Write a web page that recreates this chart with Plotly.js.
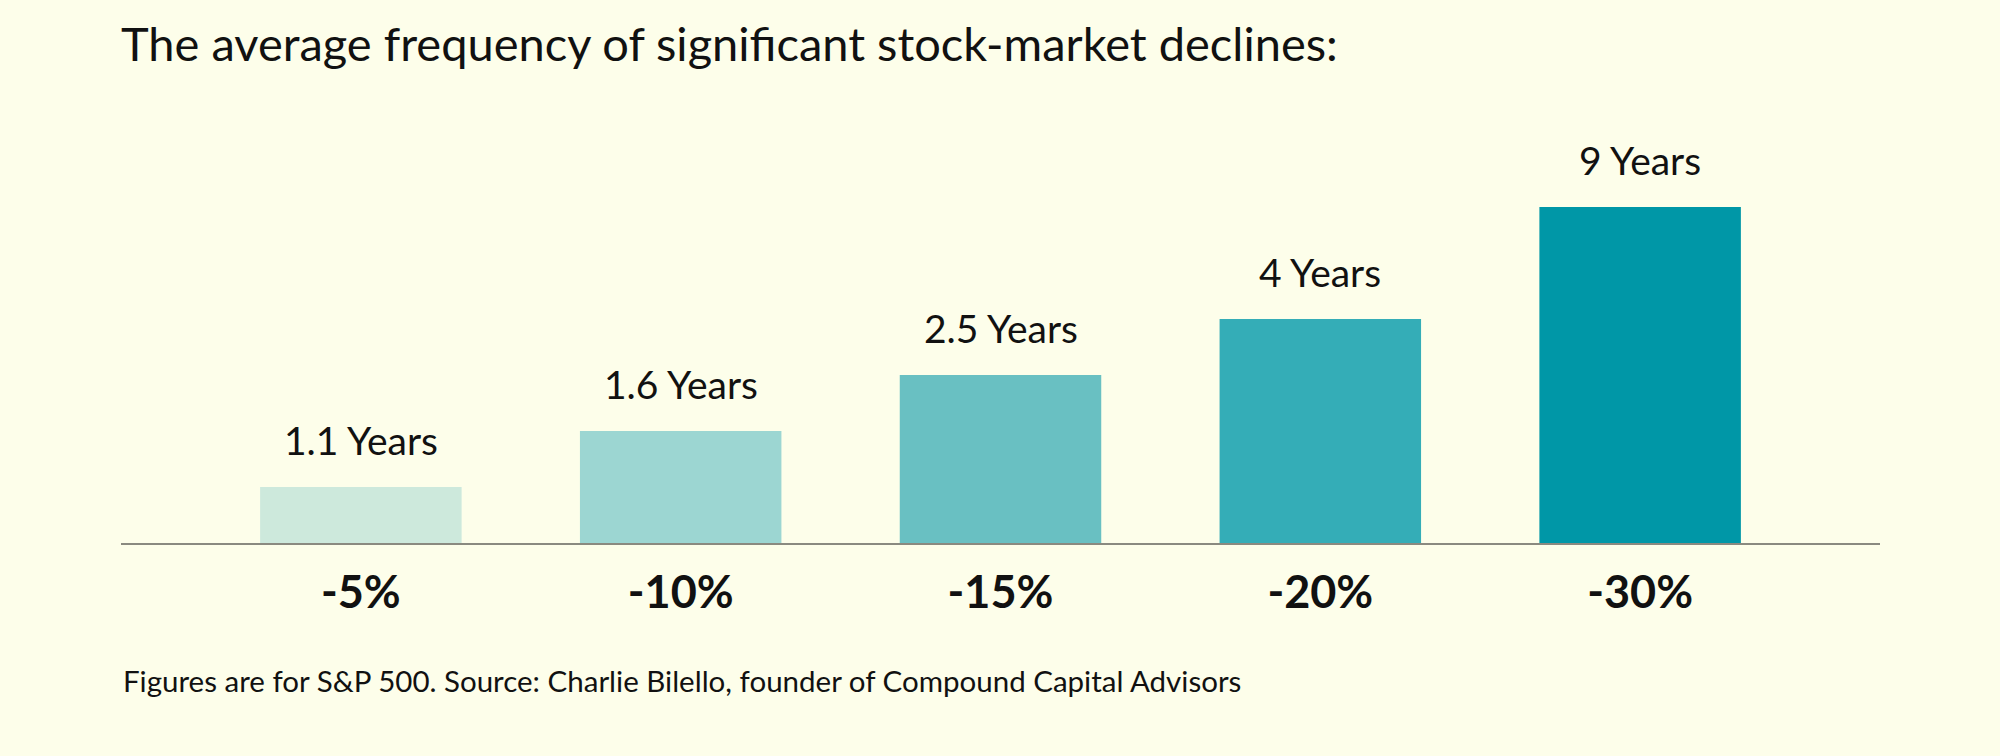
<!DOCTYPE html>
<html>
<head>
<meta charset="utf-8">
<script src="https://cdn.plot.ly/plotly-3.0.1.min.js"></script>
<style>
  html, body { margin: 0; padding: 0; background: #fdfeea; }
  #chart { width: 2000px; height: 756px; }
</style>
</head>
<body>
<div id="chart"></div>
<script>
// Decline thresholds (x categories)
const declines = ['-5%', '-10%', '-15%', '-20%', '-30%'];
// Average frequency in years (as labelled)
const yearsLabels = ['1.1', '1.6', '2.5', '4', '9'];
// Bar heights as drawn in the picture (visual units, baseline = 0)
const barHeights = [1, 2, 3, 4, 6];
// Bar colours, light to dark teal
const barColors = ['#cde9dc', '#9cd6d2', '#69c0c2', '#34adb7', '#0097a7'];

const titleText = 'The average frequency of significant stock-market declines:';
const footText = 'Figures are for S&amp;P 500. Source: Charlie Bilello, founder of Compound Capital Advisors';

const FONT = 'Lato, "Open Sans", Arial, sans-serif';

const trace = {
  type: 'bar',
  x: declines,
  y: barHeights,
  marker: { color: barColors, line: { width: 0 } },
  width: 0.63,
  hoverinfo: 'skip'
};

const annotations = declines.map((d, i) => ({
  x: d,
  y: barHeights[i],
  xref: 'x',
  yref: 'y',
  text: yearsLabels[i] + ' Years',
  showarrow: false,
  yanchor: 'bottom',
  yshift: 22,
  font: { family: FONT, size: 39, color: '#111111' }
}));

annotations.push({
  xref: 'paper', yref: 'paper',
  x: 0, y: -0.28,
  xanchor: 'left', yanchor: 'top',
  text: footText,
  showarrow: false,
  font: { family: FONT, size: 29.5, color: '#111111' }
});

const layout = {
  width: 2000,
  height: 756,
  paper_bgcolor: '#fdfeea',
  plot_bgcolor: '#fdfeea',
  margin: { l: 121, r: 120, t: 123, b: 213 },
  showlegend: false,
  title: {
    text: titleText,
    x: 0, xref: 'paper', xanchor: 'left',
    y: 0.9625, yref: 'container', yanchor: 'top',
    font: { family: FONT, size: 47, color: '#111111' }
  },
  xaxis: {
    type: 'category',
    range: [-0.75, 4.75],
    showgrid: false,
    zeroline: false,
    showline: true,
    linecolor: '#8a8a80',
    linewidth: 2,
    ticks: '',
    ticklabelstandoff: 9,
    tickfont: { family: FONT, size: 45, color: '#111111', weight: 'bold' },
    fixedrange: true
  },
  yaxis: {
    range: [0, 7.5],
    visible: false,
    showgrid: false,
    zeroline: false,
    fixedrange: true
  },
  annotations: annotations
};

Plotly.newPlot('chart', [trace], layout, { displayModeBar: false, staticPlot: true });
</script>
</body>
</html>
